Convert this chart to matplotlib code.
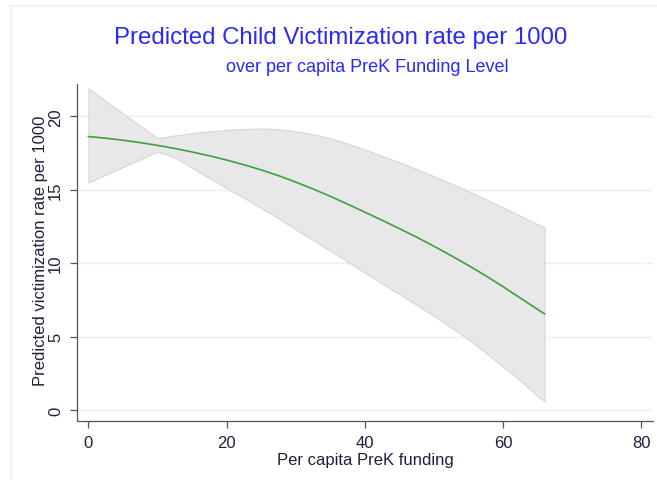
import matplotlib
matplotlib.use("Agg")
import matplotlib.pyplot as plt
from matplotlib.lines import Line2D

plt.rcParams['font.family'] = ['Liberation Sans', 'DejaVu Sans']

# Predicted values and 95% confidence band by funding level
funding = [0, 2.5, 5, 7.5, 10, 12.5, 15, 17.5, 20, 22.5, 25, 27.5, 30, 32.5, 35, 37.5,
           40, 42.5, 45, 47.5, 50, 52.5, 55, 57.5, 60, 62.5, 65, 66]
predicted = [18.62, 18.51, 18.37, 18.21, 18.02, 17.81, 17.57, 17.31, 17.02, 16.70,
             16.35, 15.96, 15.52, 15.05, 14.55, 14.02, 13.47, 12.92, 12.35, 11.77,
             11.15, 10.51, 9.84, 9.14, 8.40, 7.62, 6.85, 6.55]
ci_upper = [21.9, 21.05, 20.2, 19.35, 18.5, 18.7, 18.85, 18.97, 19.07, 19.14,
            19.17, 19.12, 18.98, 18.78, 18.5, 18.15, 17.73, 17.3, 16.87, 16.4,
            15.92, 15.42, 14.9, 14.35, 13.8, 13.22, 12.65, 12.45]
ci_lower = [15.5, 16.02, 16.55, 17.07, 17.6, 17.2, 16.5, 15.8, 15.1, 14.45,
            13.75, 13.05, 12.3, 11.57, 10.85, 10.1, 9.35, 8.62, 7.9, 7.15,
            6.4, 5.62, 4.8, 3.9, 2.95, 2.0, 0.95, 0.6]

x_ticks = [0, 20, 40, 60, 80]
y_ticks = [0, 5, 10, 15, 20]

W, H = 657, 481
fig = plt.figure(figsize=(W / 100, H / 100), dpi=100)
fig.patch.set_facecolor('white')

def fx(px):
    return px / W

def fy(py):
    return 1 - py / H

# faint outer frame of the graph region
fig.add_artist(Line2D([fx(11), fx(11)], [fy(7), 0], color='#eef3f3', lw=1.2))
fig.add_artist(Line2D([fx(11), 1], [fy(7), fy(7)], color='#eef3f3', lw=1.2))

ax = fig.add_axes([fx(77), fy(422), fx(653) - fx(77), fy(85) - fy(422)])
ax.set_xlim(-1.66, 81.7)
ax.set_ylim(-0.75, 22.2)

ax.fill_between(funding, ci_lower, ci_upper, facecolor='#e8e8e8', edgecolor='#d6d6d6',
                lw=0.8, zorder=2)
ax.plot(funding, predicted, color='#3f9f3f', lw=1.2, zorder=3)

ax.set_xticks(x_ticks)
ax.set_yticks(y_ticks)
ax.yaxis.grid(True, color='#e9f1f1', lw=1.0, zorder=1)
ax.set_axisbelow(True)

for s in ['top', 'right']:
    ax.spines[s].set_visible(False)
for s in ['left', 'bottom']:
    ax.spines[s].set_color('#555555')
    ax.spines[s].set_linewidth(0.9)

ax.tick_params(axis='both', direction='out', length=5, width=0.9, color='#555555',
               labelsize=12, labelcolor='#20203a')
ax.tick_params(axis='x', pad=5)
ax.tick_params(axis='y', pad=5)
for lbl in ax.get_yticklabels():
    lbl.set_rotation(90)
    lbl.set_va('center')

ax.set_xlabel('Per capita PreK funding', fontsize=12, color='#20203a')
ax.set_ylabel('Predicted victimization rate per 1000', fontsize=12, color='#20203a')
ax.xaxis.set_label_coords(0.5, (422 - 461) / 337, transform=ax.transAxes)
ax.yaxis.set_label_coords((41 - 77) / 576, (422 - 251) / 337, transform=ax.transAxes)
ax.xaxis.label.set_va('center')
ax.yaxis.label.set_va('center')

fig.text(fx(341), fy(38), 'Predicted Child Victimization rate per 1000', fontsize=17.3,
         color='#2a2af5', ha='center', va='center')
fig.text(fx(367), fy(68), 'over per capita PreK Funding Level', fontsize=13,
         color='#2a2af5', ha='center', va='center')

fig.savefig('out.png', dpi=100, facecolor='white')
